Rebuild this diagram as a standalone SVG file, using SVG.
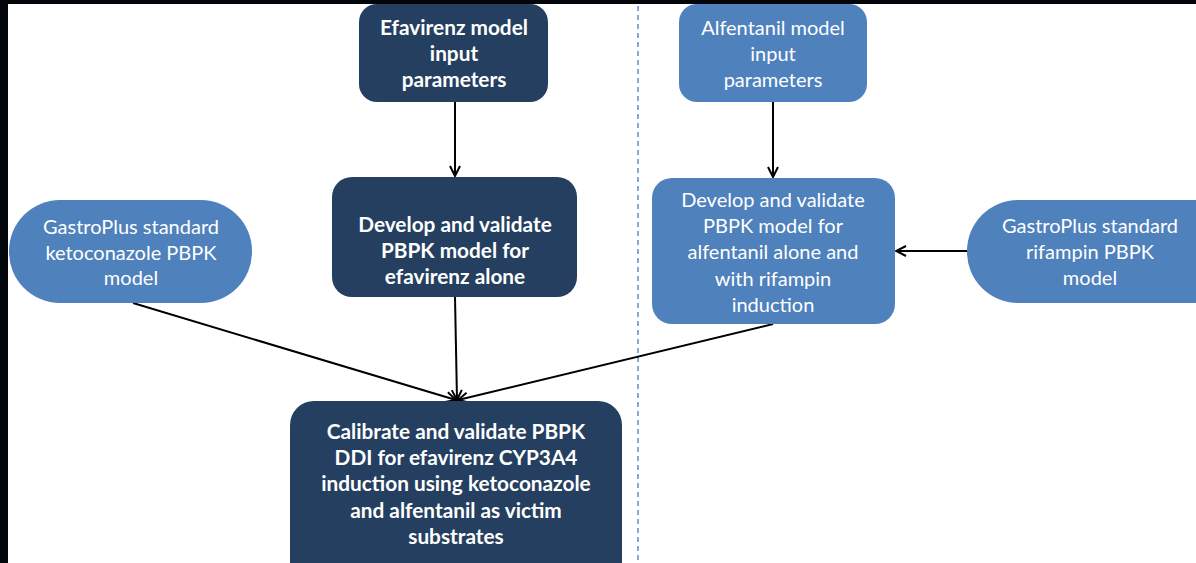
<svg xmlns="http://www.w3.org/2000/svg" width="1196" height="563" viewBox="0 0 1196 563">
<defs>
<style>
.dark{fill:#253F60}
.light{fill:#4F81BD}
text{font-family:Lato,"Open Sans","Liberation Sans",sans-serif;font-size:20px;fill:#ffffff;text-anchor:middle}
.b{font-weight:bold;font-size:20.8px}
.conn{stroke:#000;stroke-width:2;fill:none}
</style>
<marker id="ah" viewBox="0 0 12 12" refX="11" refY="6" markerWidth="12" markerHeight="12" markerUnits="userSpaceOnUse" orient="auto">
<path d="M1,1 L11,6 L1,11" stroke="#000" stroke-width="2" fill="none"/>
</marker>
</defs>
<rect x="0" y="0" width="1196" height="563" fill="#02050a"/>
<rect x="8" y="4" width="1188" height="559" fill="#ffffff"/>
<line x1="638" y1="6" x2="638" y2="563" stroke="#5B8FD0" stroke-width="1.5" stroke-dasharray="5,4"/>
<g id="connectors">
<line class="conn" x1="455" y1="102" x2="455" y2="176" marker-end="url(#ah)"/>
<line class="conn" x1="773" y1="102" x2="773" y2="177" marker-end="url(#ah)"/>
<line class="conn" x1="455" y1="297" x2="457" y2="400" marker-end="url(#ah)"/>
<line class="conn" x1="133" y1="303" x2="456" y2="400" marker-end="url(#ah)"/>
<line class="conn" x1="773" y1="324" x2="458" y2="400" marker-end="url(#ah)"/>
<line class="conn" x1="967" y1="251" x2="896" y2="251" marker-end="url(#ah)"/>
</g>
<g id="efavirenz-input">
<rect class="dark" x="359" y="4" width="189" height="98" rx="18"/>
<text class="b" x="454" y="35">Efavirenz model</text>
<text class="b" x="454" y="61">input</text>
<text class="b" x="454" y="87">parameters</text>
</g>
<g id="alfentanil-input">
<rect class="light" x="679" y="4" width="188" height="98" rx="18"/>
<text x="773" y="35">Alfentanil model</text>
<text x="773" y="61">input</text>
<text x="773" y="87">parameters</text>
</g>
<g id="develop-efavirenz">
<rect class="dark" x="332" y="177" width="245" height="120" rx="20"/>
<text class="b" x="455" y="232">Develop and validate</text>
<text class="b" x="455" y="258">PBPK model for</text>
<text class="b" x="455" y="284">efavirenz alone</text>
</g>
<g id="develop-alfentanil">
<rect class="light" x="652" y="178" width="243" height="146" rx="20"/>
<text x="773" y="207">Develop and validate</text>
<text x="773" y="233">PBPK model  for</text>
<text x="773" y="259">alfentanil alone and</text>
<text x="773" y="286">with rifampin</text>
<text x="773" y="312">induction</text>
</g>
<g id="ketoconazole">
<rect class="light" x="9" y="200" width="243" height="103" rx="51"/>
<text x="131" y="234">GastroPlus standard</text>
<text x="131" y="260">ketoconazole PBPK</text>
<text x="131" y="285">model</text>
</g>
<g id="rifampin">
<rect class="light" x="967" y="200" width="280" height="103" rx="51"/>
<text x="1090" y="233">GastroPlus standard</text>
<text x="1090" y="259">rifampin PBPK</text>
<text x="1090" y="285">model</text>
</g>
<g id="calibrate">
<rect class="dark" x="290" y="401" width="332" height="190" rx="24"/>
<text class="b" x="456" y="439">Calibrate and validate PBPK</text>
<text class="b" x="456" y="465">DDI for efavirenz CYP3A4</text>
<text class="b" x="456" y="491">induction using ketoconazole</text>
<text class="b" x="456" y="518">and alfentanil as victim</text>
<text class="b" x="456" y="544">substrates</text>
</g>
</svg>
